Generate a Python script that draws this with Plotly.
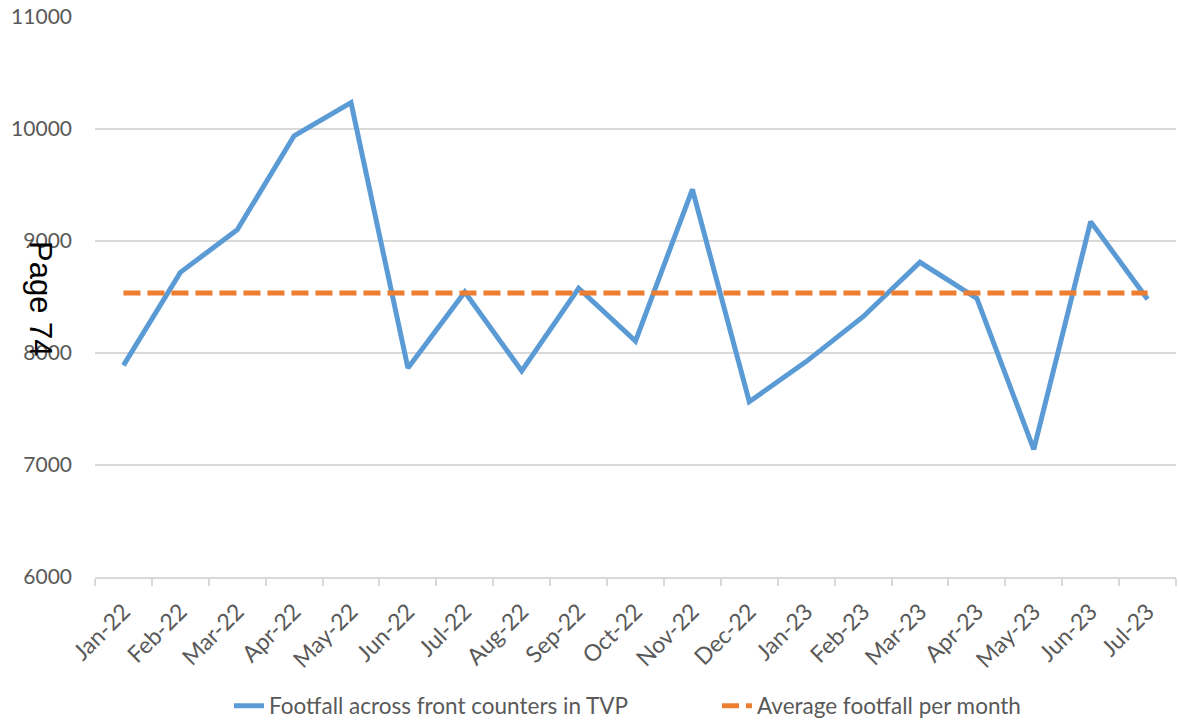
import plotly.graph_objects as go

months = ["Jan-22", "Feb-22", "Mar-22", "Apr-22", "May-22", "Jun-22", "Jul-22",
          "Aug-22", "Sep-22", "Oct-22", "Nov-22", "Dec-22", "Jan-23", "Feb-23",
          "Mar-23", "Apr-23", "May-23", "Jun-23", "Jul-23"]
footfall = [7890, 8720, 9100, 9940, 10235, 7866, 8545, 7840, 8578, 8107,
            9461, 7565, 7923, 8324, 8810, 8488, 7140, 9173, 8480]
average = [8535, 8535, 8535, 8535, 8535, 8535, 8535, 8535, 8535, 8535,
           8535, 8535, 8535, 8535, 8535, 8535, 8535, 8535, 8535]

FONT = "Lato"
GREY = "#595959"
GRID = "#D9D9D9"

fig = go.Figure()
fig.add_trace(go.Scatter(
    x=months, y=footfall, mode="lines",
    name="Footfall across front counters in TVP",
    line=dict(color="#5B9BD5", width=5),
))
fig.add_trace(go.Scatter(
    x=months, y=average, mode="lines",
    name="Average footfall per month",
    line=dict(color="#ED7D31", width=5, dash="17px,7px"),
))

fig.update_layout(
    width=1178, height=720,
    margin=dict(l=95, r=2, t=17, b=143, autoexpand=False),
    paper_bgcolor="white", plot_bgcolor="white",
    font=dict(family=FONT, size=20, color=GREY),
    showlegend=True,
    legend=dict(
        orientation="h", xref="container", yref="container",
        x=229 / 1178, xanchor="left", y=1 - 706 / 720, yanchor="middle",
        font=dict(family=FONT, size=22.5, color=GREY),
        entrywidth=443, entrywidthmode="pixels",
    ),
    xaxis=dict(
        type="category", range=[-0.5, 18.5],
        showgrid=False, showline=True, linecolor=GRID, linewidth=2,
        ticks="outside", tickson="boundaries", ticklen=7, tickcolor=GRID, tickwidth=2,
        tickangle=-45, tickfont=dict(family=FONT, size=23, color=GREY),
        ticklabelstandoff=10,
    ),
    yaxis=dict(
        range=[6000, 11000], dtick=1000, tick0=6000,
        showgrid=True, gridcolor=GRID, gridwidth=2,
        zeroline=False, showline=False, ticks="",
        tickfont=dict(family=FONT, size=21, color=GREY),
        ticklabelstandoff=22, tickformat="d",
    ),
)

fig.add_annotation(
    text="Page 74", xref="paper", yref="paper",
    x=(41 - 95) / 1081, y=(577 - 299) / 560,
    xanchor="center", yanchor="middle",
    textangle=90, showarrow=False,
    font=dict(family="Liberation Sans", size=31, color="black"),
)

fig.write_html("out.html")
